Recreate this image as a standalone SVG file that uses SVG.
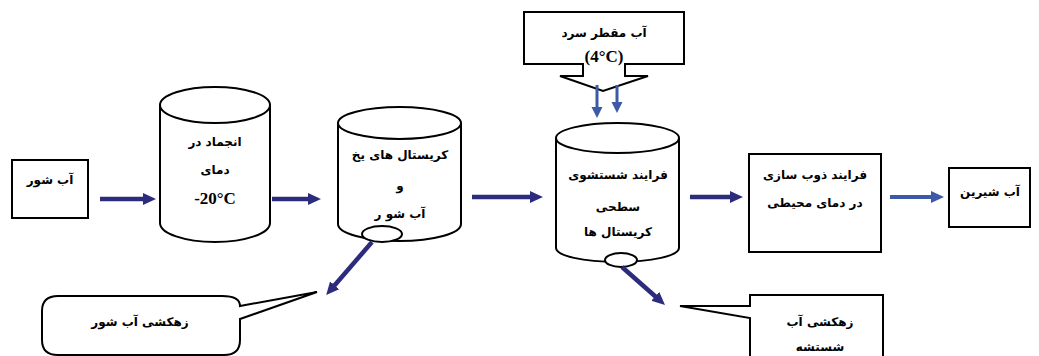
<svg xmlns="http://www.w3.org/2000/svg" width="1039" height="356" viewBox="0 0 1039 356">
<style>
.sh{fill:#fff;stroke:#000;stroke-width:2}
.fa{font-family:"DejaVu Sans",sans-serif;font-weight:bold;font-size:12px;fill:#000;text-anchor:middle}
.en{font-family:"Liberation Serif",serif;font-weight:bold;font-size:17px;fill:#000;text-anchor:middle}
.dk{stroke:#2d2c7c;stroke-width:4.5;fill:none}
.lt{stroke:#3d5aa8;stroke-width:4;fill:none}
.lt2{stroke:#3d5aa8;stroke-width:3;fill:none}
</style>
<defs>
<marker id="ad" markerUnits="userSpaceOnUse" markerWidth="14" markerHeight="14" refX="1" refY="7" orient="auto"><path d="M0,1 L13,7 L0,13 z" fill="#2d2c7c"/></marker>
<marker id="al" markerUnits="userSpaceOnUse" markerWidth="14" markerHeight="14" refX="1" refY="7" orient="auto"><path d="M0,1 L13,7 L0,13 z" fill="#3d5aa8"/></marker>
<marker id="as" markerUnits="userSpaceOnUse" markerWidth="12" markerHeight="12" refX="1" refY="6" orient="auto"><path d="M0,0.5 L11,6 L0,11.5 z" fill="#3d5aa8"/></marker>
</defs>

<g id="salt-water">
<rect class="sh" x="12" y="160" width="76" height="58"/>
<text class="fa" x="50" y="184">آب شور</text>
</g>

<g id="freezing">
<path class="sh" d="M160,105 L160,223 A55,19 0 0 0 270,223 L270,105"/>
<ellipse class="sh" cx="215" cy="105" rx="55" ry="18"/>
<text class="fa" x="215" y="146">انجماد در</text>
<text class="fa" x="215" y="174">دمای</text>
<text class="en" x="215" y="204">-20°C</text>
</g>

<g id="crystals">
<path class="sh" d="M338,123 L338,224 A61.5,17 0 0 0 461,224 L461,123"/>
<ellipse class="sh" cx="399.5" cy="123" rx="61.5" ry="16"/>
<ellipse class="sh" cx="382" cy="234" rx="20" ry="8"/>
<text class="fa" x="400" y="159">کریستال های یخ</text>
<text class="fa" x="400" y="190">و</text>
<text class="fa" x="400" y="218">آب شو ر</text>
</g>

<g id="washing">
<path class="sh" d="M556,138 L556,248 A61.5,14 0 0 0 679,248 L679,138"/>
<ellipse class="sh" cx="617.5" cy="138" rx="61.5" ry="15"/>
<ellipse class="sh" cx="621" cy="260" rx="16" ry="7"/>
<text class="fa" x="618" y="179">فرایند شستشوی</text>
<text class="fa" x="618" y="211">سطحی</text>
<text class="fa" x="618" y="236">کریستال ها</text>
</g>

<g id="melting">
<rect class="sh" x="749" y="154" width="132" height="98"/>
<text class="fa" x="815" y="179">فرایند ذوب سازی</text>
<text class="fa" x="815" y="207">در دمای محیطی</text>
</g>

<g id="fresh-water">
<rect class="sh" x="949" y="168" width="81" height="59"/>
<text class="fa" x="990" y="196">آب شیرین</text>
</g>

<g id="cold-water">
<path class="sh" d="M524,12 L684,12 L684,64 L625,64 L625,76 L648,76 L603,91 L560,76 L583,76 L583,64 L524,64 Z"/>
<text class="fa" x="604" y="37">آب مقطر سرد</text>
<text class="en" x="604" y="62">(4°C)</text>
</g>

<g id="brine-drain">
<path class="sh" d="M58,296 L222,296 Q240,296 240,306 L317,292 L240,319 L240,340 Q240,355 224,355 L58,355 Q42,355 42,340 L42,311 Q42,296 58,296 Z"/>
<text class="fa" x="140" y="326">زهکشی آب شور</text>
</g>

<g id="wash-drain">
<path class="sh" d="M750,295 L883,295 L883,360 L750,360 L750,318 L680,306 L750,306 Z"/>
<text class="fa" x="820" y="326">زهکشی آب</text>
<text class="fa" x="820" y="351">شستشه</text>
</g>

<g id="connectors">
<line class="dk" x1="100" y1="199" x2="144" y2="199" marker-end="url(#ad)"/>
<line class="dk" x1="272" y1="199" x2="309" y2="199" marker-end="url(#ad)"/>
<line class="dk" x1="472" y1="197" x2="531" y2="197" marker-end="url(#ad)"/>
<line class="dk" x1="690" y1="197" x2="731" y2="197" marker-end="url(#ad)"/>
<line class="lt" x1="890" y1="197" x2="932" y2="197" marker-end="url(#al)"/>
<line class="dk" x1="372" y1="242" x2="334" y2="286" marker-end="url(#ad)"/>
<line class="dk" x1="622" y1="267" x2="656" y2="297" marker-end="url(#ad)"/>
<line class="lt2" x1="597" y1="85" x2="597" y2="108" marker-end="url(#as)"/>
<line class="lt2" x1="617" y1="85" x2="617" y2="103" marker-end="url(#as)"/>
</g>
</svg>
